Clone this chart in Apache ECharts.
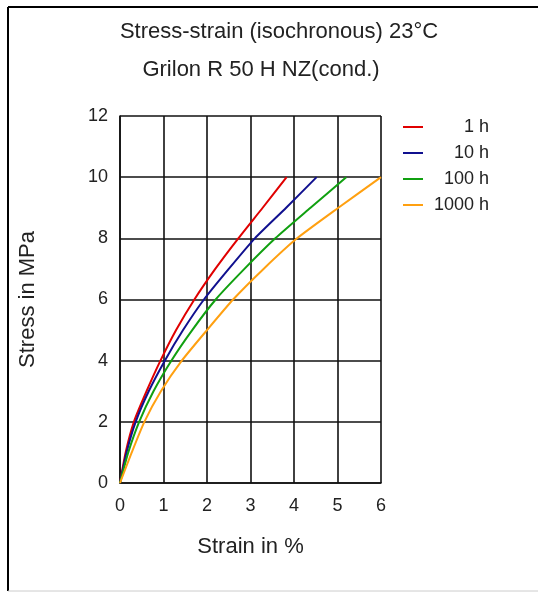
<!DOCTYPE html>
<html>
<head>
<meta charset="utf-8">
<script src="https://cdn.jsdelivr.net/npm/echarts@6/dist/echarts.min.js"></script>
<style>html,body{margin:0;padding:0;background:#fff}#c{width:538px;height:592px}</style>
</head>
<body>
<div id="c"></div>
<script>
// Series data: [strain %, stress MPa]
const seriesNames = ['1 h', '10 h', '100 h', '1000 h'];
const stressLevels = [0, 1, 2, 3, 4, 5, 6, 7, 8, 9, 10];
const strain1h    = [0, 0.13, 0.32, 0.61, 0.93, 1.29, 1.71, 2.19, 2.72, 3.28, 3.83];
const strain10h   = [0, 0.15, 0.36, 0.66, 1.03, 1.45, 1.93, 2.50, 3.10, 3.82, 4.52];
const strain100h  = [0, 0.19, 0.44, 0.77, 1.18, 1.66, 2.20, 2.86, 3.57, 4.38, 5.20];
const strain1000h = [0, 0.27, 0.56, 0.94, 1.42, 2.00, 2.60, 3.30, 4.07, 5.02, 6.00];
const colors = ['#e00000', '#10108f', '#10a010', '#ffa010'];
const xTicks = { min: 0, max: 6, interval: 1 };
const yTicks = { min: 0, max: 12, interval: 2 };

const allStrains = [strain1h, strain10h, strain100h, strain1000h];
const font = 'Liberation Sans, Arial, sans-serif';
const chart = echarts.init(document.getElementById('c'), null, { renderer: 'canvas' });
chart.setOption({
  animation: false,
  backgroundColor: '#fff',
  title: [
    { text: 'Stress-strain (isochronous) 23°C', left: 274, top: 16, textAlign: 'center',
      textStyle: { fontFamily: font, fontSize: 22, fontWeight: 'normal', color: '#222' } },
    { text: 'Grilon R 50 H NZ(cond.)', left: 256, top: 54, textAlign: 'center',
      textStyle: { fontFamily: font, fontSize: 22, fontWeight: 'normal', color: '#222' } }
  ],
  legend: {
    orient: 'vertical', left: 398, top: 113,
    itemWidth: 20, itemHeight: 2, itemGap: 8, icon: 'rect',
    data: seriesNames,
    formatter: n => '{a|' + n + '}',
    textStyle: { fontFamily: font, color: '#222', fontSize: 18, lineHeight: 18,
      rich: { a: { width: 61, align: 'right', fontSize: 18, lineHeight: 18, fontFamily: font, color: '#222' } } }
  },
  grid: { left: 120, right: 157, top: 116, bottom: 109, containLabel: false, outerBoundsMode: 'none' },
  xAxis: {
    type: 'value', min: xTicks.min, max: xTicks.max, interval: xTicks.interval,
    name: 'Strain in %', nameLocation: 'middle', nameGap: 53,
    nameTextStyle: { fontFamily: font, fontSize: 22, color: '#222' },
    axisLine: { show: true, lineStyle: { color: '#111', width: 1.6 } },
    axisTick: { show: false },
    axisLabel: { fontFamily: font, fontSize: 18, color: '#222', margin: 14 },
    splitLine: { show: true, lineStyle: { color: '#111', width: 1.6 } }
  },
  yAxis: {
    type: 'value', min: yTicks.min, max: yTicks.max, interval: yTicks.interval,
    name: 'Stress in MPa', nameLocation: 'middle', nameGap: 81, nameRotate: 90,
    nameTextStyle: { fontFamily: font, fontSize: 22, color: '#222' },
    axisLine: { show: true, lineStyle: { color: '#111', width: 1.6 } },
    axisTick: { show: false },
    axisLabel: { fontFamily: font, fontSize: 18, color: '#222', margin: 12 },
    splitLine: { show: true, lineStyle: { color: '#111', width: 1.6 } }
  },
  series: seriesNames.map((name, i) => ({
    name, type: 'line', symbol: 'none', smooth: 0.2,
    color: colors[i],
    lineStyle: { width: 2, color: colors[i], join: 'round' },
    data: allStrains[i].map((s, j) => [s, stressLevels[j]]),
    z: 3 + i
  })),
  graphic: [
    { type: 'line', shape: { x1: 8, y1: 7, x2: 538, y2: 7 }, style: { stroke: '#000', lineWidth: 2 } },
    { type: 'line', shape: { x1: 8, y1: 7, x2: 8, y2: 591 }, style: { stroke: '#000', lineWidth: 2 } },
    { type: 'line', shape: { x1: 8, y1: 591, x2: 538, y2: 591 }, style: { stroke: '#ccc', lineWidth: 1 } }
  ]
});
</script>
</body>
</html>
